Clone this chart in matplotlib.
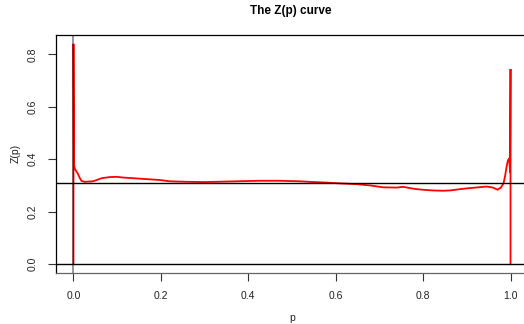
import numpy as np
import matplotlib
matplotlib.use("Agg")
import matplotlib.pyplot as plt

plt.rcParams['font.family'] = ['Liberation Sans', 'DejaVu Sans']

# Z(p) curve
p = [0.0, 0.0, 0.001, 0.003, 0.006, 0.010, 0.014, 0.018, 0.025, 0.035, 0.045,
     0.055, 0.065, 0.083, 0.098, 0.115, 0.135, 0.160, 0.197, 0.220, 0.260,
     0.300, 0.350, 0.400, 0.426, 0.470, 0.518, 0.550, 0.579, 0.610, 0.648,
     0.680, 0.708, 0.740, 0.754, 0.770, 0.785, 0.805, 0.823, 0.845, 0.861,
     0.880, 0.900, 0.920, 0.945, 0.960, 0.970, 0.978, 0.984, 0.988, 0.991,
     0.994, 0.997, 0.999, 1.0, 1.0]
z = [0.0, 0.84, 0.38, 0.365, 0.355, 0.345, 0.330, 0.318, 0.314, 0.315, 0.316,
     0.322, 0.328, 0.332, 0.333, 0.330, 0.328, 0.325, 0.321, 0.316, 0.314,
     0.313, 0.315, 0.317, 0.318, 0.318, 0.316, 0.313, 0.311, 0.308, 0.305,
     0.300, 0.293, 0.292, 0.295, 0.290, 0.286, 0.283, 0.281, 0.280, 0.281,
     0.285, 0.289, 0.292, 0.296, 0.292, 0.284, 0.292, 0.308, 0.340, 0.372,
     0.395, 0.404, 0.35, 0.744, 0.0]
z_ref = 0.31

x_ticks = [0.0, 0.2, 0.4, 0.6, 0.8, 1.0]
y_ticks = [0.0, 0.2, 0.4, 0.6, 0.8]

fig = plt.figure(figsize=(5.24, 3.24), dpi=100)
ax = fig.add_axes([56 / 524, 1 - 273 / 324, 472 / 524, 238 / 324])

ax.plot(p, z, color='#ff0000', lw=1.3, solid_joinstyle='miter')
ax.axhline(0, color='black', lw=1)
ax.axhline(z_ref, color='black', lw=1)
ax.axvline(0, color='black', lw=1.3, alpha=0.45)

ax.set_xlim(-0.04, 1.04)
ax.set_ylim(-0.0336, 0.8736)
ax.set_xticks(x_ticks)
ax.set_xticklabels([f"{v:.1f}" for v in x_ticks])
ax.set_yticks(y_ticks)
ax.set_yticklabels([f"{v:.1f}" for v in y_ticks], rotation=90, va='center')
ax.tick_params(length=6, width=0.8, labelsize=7.5, pad=7, colors='#333333',
               labelcolor='#222222')
for s in ax.spines.values():
    s.set_linewidth(0.9)
ax.spines['bottom'].set_color('#666666')

fig.text(291 / 524, 1 - 11 / 324, "The Z(p) curve", ha='center', va='center',
         fontsize=8.5, fontweight='bold')
fig.text(291.7 / 524, 1 - 317.7 / 324, "p", ha='center', va='center',
         fontsize=7.5, color='#222222')
fig.text(16 / 524, 1 - 153 / 324, "Z(p)", ha='center', va='center',
         fontsize=7.5, rotation=90, color='#222222')

fig.savefig("out.png", dpi=100)
